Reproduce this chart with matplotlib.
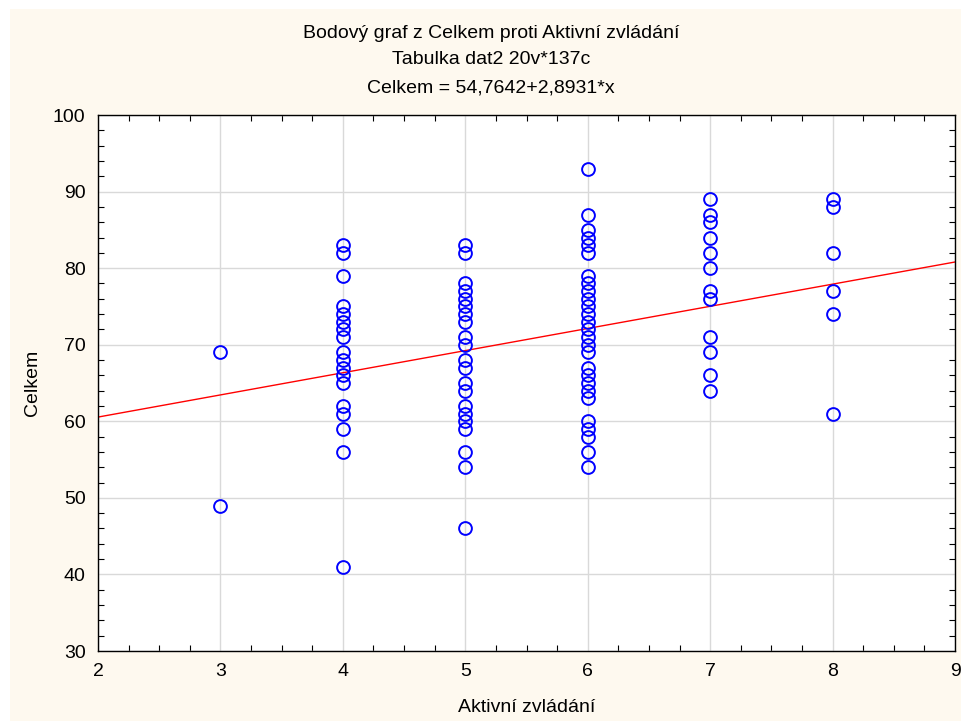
import matplotlib
matplotlib.use("Agg")
import matplotlib.pyplot as plt
from matplotlib.patches import Rectangle
from matplotlib.ticker import MultipleLocator
import numpy as np

plt.rcParams['font.family'] = ['Liberation Sans', 'DejaVu Sans']

# Data (Aktivní zvládání -> list of Celkem values)
x3 = [69, 49]
x4 = [83, 82, 79, 75, 74, 73, 72, 71, 69, 68, 67, 66, 65, 62, 61, 59, 56, 41]
x5 = [83, 82, 78, 77, 76, 75, 74, 73, 71, 70, 68, 67, 65, 64, 62, 61, 60, 59, 56, 54, 46]
x6 = [93, 87, 85, 84, 83, 82, 79, 78, 77, 76, 75, 74, 73, 72, 71, 70, 69,
      67, 66, 65, 64, 63, 60, 59, 58, 56, 54]
x7 = [89, 87, 86, 84, 82, 80, 77, 76, 71, 69, 66, 64]
x8 = [89, 88, 82, 77, 74, 61]
groups = {3: x3, 4: x4, 5: x5, 6: x6, 7: x7, 8: x8}

intercept = 54.7642
slope = 2.8931

title_lines = ["Bodový graf z Celkem proti Aktivní zvládání",
               "Tabulka dat2 20v*137c",
               "Celkem = 54,7642+2,8931*x"]

W, H = 961, 721
fig = plt.figure(figsize=(W / 100, H / 100), dpi=100, facecolor='white')
fig.patches.append(Rectangle((10 / W, 0), 1 - 10 / W, 1 - 9 / H,
                             transform=fig.transFigure, facecolor='#fef9ef',
                             edgecolor='none', zorder=-10))

ax = fig.add_axes([98 / W, 1 - 651 / H, (955 - 98) / W, (651 - 115) / H])
ax.set_facecolor('white')

xs, ys = [], []
for k, vals in groups.items():
    xs.extend([k] * len(vals))
    ys.extend(vals)
ax.plot(xs, ys, linestyle='none', marker='o', markersize=9.2,
        markerfacecolor='none', markeredgecolor='#0000ff', markeredgewidth=1.4,
        zorder=3)

xl = np.array([2, 9])
ax.plot(xl, intercept + slope * xl, color='#ff0000', linewidth=1.0, zorder=2)

ax.set_xlim(2, 9)
ax.set_ylim(30, 100)
ax.xaxis.set_major_locator(MultipleLocator(1))
ax.xaxis.set_minor_locator(MultipleLocator(0.25))
ax.yaxis.set_major_locator(MultipleLocator(10))
ax.yaxis.set_minor_locator(MultipleLocator(2))
ax.grid(True, which='major', color='#d9d9d9', linewidth=1.0, zorder=0)
ax.set_axisbelow(True)
ax.tick_params(which='both', direction='in', top=True, right=True,
               labelsize=14, colors='black')
ax.tick_params(which='major', length=0, pad=9)
ax.tick_params(which='minor', length=4, width=0.8)
for s in ax.spines.values():
    s.set_linewidth(1.0)
    s.set_color('black')

ax.set_xlabel('Aktivní zvládání', fontsize=14)
ax.set_ylabel('Celkem', fontsize=14)
ax.xaxis.set_label_coords(0.5, (651 - 707) / 536)
ax.yaxis.set_label_coords((33 - 98) / 857, 0.5)
ax.xaxis.label.set_va('center')
ax.yaxis.label.set_va('center')

ys_t = [33, 60, 88]
for t, yy in zip(title_lines, ys_t):
    fig.text(491 / W, 1 - yy / H, t, ha='center', va='center', fontsize=14)

fig.savefig('out.png', dpi=100, facecolor=fig.get_facecolor())
